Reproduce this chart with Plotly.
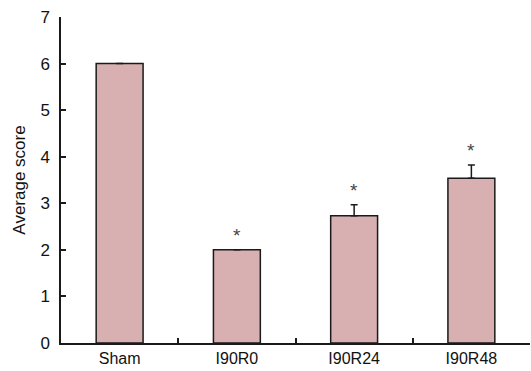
import plotly.graph_objects as go

categories = ["Sham", "I90R0", "I90R24", "I90R48"]
values = [6.0, 2.0, 2.73, 3.54]
errors = [0.0, 0.0, 0.24, 0.28]
marks = ["", "*", "*", "*"]
y_ticks = [0, 1, 2, 3, 4, 5, 6, 7]

fig = go.Figure()
fig.add_trace(go.Bar(
    x=categories, y=values, width=0.4,
    marker=dict(color="#D8B0B1", line=dict(color="#1a1a1a", width=1.5)),
    error_y=dict(type="data", symmetric=False, array=errors,
                 arrayminus=[0] * len(errors), color="#1a1a1a",
                 thickness=1.5, width=3.5),
))
for c, v, e, m in zip(categories, values, errors, marks):
    if m:
        fig.add_annotation(x=c, y=v + e, text=m, showarrow=False,
                           yanchor="bottom", yshift=2,
                           font=dict(size=19, color="#444444",
                                     family="Liberation Sans, Arial"))

fig.update_layout(
    width=531, height=371,
    margin=dict(l=61, r=1, t=17, b=28),
    paper_bgcolor="white", plot_bgcolor="white",
    showlegend=False,
    font=dict(family="Liberation Sans, Arial", size=16, color="#111111"),
    xaxis=dict(showline=True, linecolor="#1a1a1a", linewidth=1.5,
               ticks="inside", tickson="boundaries", ticklen=5,
               tickwidth=1.5, tickcolor="#1a1a1a",
               range=[-0.5, 3.5], showgrid=False,
               tickfont=dict(size=16)),
    yaxis=dict(showline=True, linecolor="#1a1a1a", linewidth=1.5,
               ticks="inside", ticklen=5, tickwidth=1.5,
               tickcolor="#1a1a1a", range=[0, 7], tickvals=y_ticks,
               showgrid=False, zeroline=False, ticklabelstandoff=6,
               title=dict(text="Average score", font=dict(size=17),
                          standoff=10),
               tickfont=dict(size=17)),
)

fig.write_html("out.html", config={"displayModeBar": False},
               post_script="document.body.style.margin='0';")
